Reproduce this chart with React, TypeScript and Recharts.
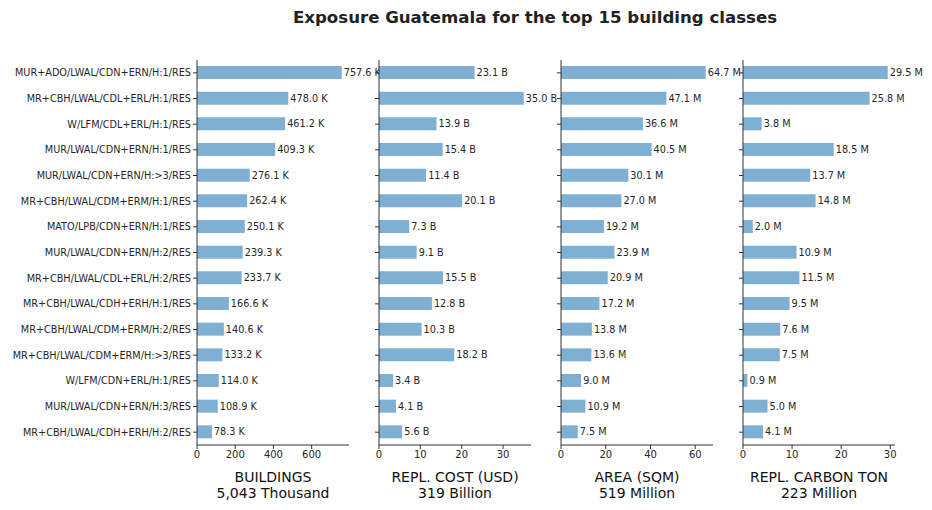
import { BarChart, Bar, XAxis, YAxis, LabelList } from "recharts";

const classes = [
  "MUR+ADO/LWAL/CDN+ERN/H:1/RES",
  "MR+CBH/LWAL/CDL+ERL/H:1/RES",
  "W/LFM/CDL+ERL/H:1/RES",
  "MUR/LWAL/CDN+ERN/H:1/RES",
  "MUR/LWAL/CDN+ERN/H:>3/RES",
  "MR+CBH/LWAL/CDM+ERM/H:1/RES",
  "MATO/LPB/CDN+ERN/H:1/RES",
  "MUR/LWAL/CDN+ERN/H:2/RES",
  "MR+CBH/LWAL/CDL+ERL/H:2/RES",
  "MR+CBH/LWAL/CDH+ERH/H:1/RES",
  "MR+CBH/LWAL/CDM+ERM/H:2/RES",
  "MR+CBH/LWAL/CDM+ERM/H:>3/RES",
  "W/LFM/CDN+ERL/H:1/RES",
  "MUR/LWAL/CDN+ERN/H:3/RES",
  "MR+CBH/LWAL/CDH+ERH/H:2/RES",
];

// thousands
const buildings = [757.6, 478.0, 461.2, 409.3, 276.1, 262.4, 250.1, 239.3, 233.7, 166.6, 140.6, 133.2, 114.0, 108.9, 78.3];
// billion USD
const replCost = [23.1, 35.0, 13.9, 15.4, 11.4, 20.1, 7.3, 9.1, 15.5, 12.8, 10.3, 18.2, 3.4, 4.1, 5.6];
// million sqm
const area = [64.7, 47.1, 36.6, 40.5, 30.1, 27.0, 19.2, 23.9, 20.9, 17.2, 13.8, 13.6, 9.0, 10.9, 7.5];
// million ton
const carbon = [29.5, 25.8, 3.8, 18.5, 13.7, 14.8, 2.0, 10.9, 11.5, 9.5, 7.6, 7.5, 0.9, 5.0, 4.1];

const panels = [
  { values: buildings, unit: "K", ticks: [0, 200, 400, 600], title: "BUILDINGS", total: "5,043 Thousand" },
  { values: replCost, unit: "B", ticks: [0, 10, 20, 30], title: "REPL. COST (USD)", total: "319 Billion" },
  { values: area, unit: "M", ticks: [0, 20, 40, 60], title: "AREA (SQM)", total: "519 Million" },
  { values: carbon, unit: "M", ticks: [0, 10, 20, 30], title: "REPL. CARBON TON", total: "223 Million" },
];

const PLOT_LEFTS = [197, 379, 561, 743];
const PLOT_W = 152;
const BAR = "#7fb0d3";
const AXIS = "#333";
const TEXT = "#262626";

const Panel = ({ idx }: { idx: number }) => {
  const p = panels[idx];
  const data = classes.map((name, i) => ({ name, value: p.values[i] }));
  const max = Math.max(...p.values) * 1.05;
  const yW = idx === 0 ? 197 : 20;
  const left = PLOT_LEFTS[idx] - yW;
  const width = yW + PLOT_W + 60;
  return (
    <div style={{ position: "absolute", left, top: 0 }}>
      <BarChart
        width={width}
        height={510}
        data={data}
        layout="vertical"
        margin={{ top: 60, right: 60, bottom: 35, left: 0 }}
        barCategoryGap={0}
      >
        <XAxis
          type="number"
          domain={[0, max]}
          ticks={p.ticks}
          tickSize={4}
          stroke={AXIS}
          tick={{ fontSize: 10, fill: TEXT }}
          height={30}
          allowDataOverflow
        />
        <YAxis
          type="category"
          dataKey="name"
          width={yW}
          tickSize={4}
          stroke={AXIS}
          interval={0}
          tick={{ fontSize: 9.7, fill: TEXT }}
          tickFormatter={idx === 0 ? (v: string) => v : () => ""}
        />
        <Bar dataKey="value" fill={BAR} barSize={13} isAnimationActive={false}>
          <LabelList
            dataKey="value"
            position="right"
            offset={2}
            fontSize={9.7}
            fill={TEXT}
            formatter={(v: number) => `${v.toFixed(1)} ${p.unit}`}
          />
        </Bar>
      </BarChart>
      <div
        style={{
          position: "absolute",
          left: yW - 20,
          top: 469,
          width: PLOT_W + 40,
          textAlign: "center",
          fontSize: 14,
          lineHeight: "16px",
          color: "#111",
        }}
      >
        {p.title}
        <br />
        {p.total}
      </div>
    </div>
  );
};

export default function App() {
  return (
    <div
      style={{
        position: "absolute",
        left: 0,
        top: 0,
        width: 932,
        height: 510,
        background: "#fff",
        fontFamily: "DejaVu Sans, sans-serif",
      }}
    >
      <div
        style={{
          position: "absolute",
          left: 0,
          top: 8,
          width: 1070,
          textAlign: "center",
          fontSize: 16.6,
          fontWeight: "bold",
          color: "#222",
        }}
      >
        Exposure Guatemala for the top 15 building classes
      </div>
      {panels.map((_, i) => (
        <Panel key={i} idx={i} />
      ))}
    </div>
  );
}
